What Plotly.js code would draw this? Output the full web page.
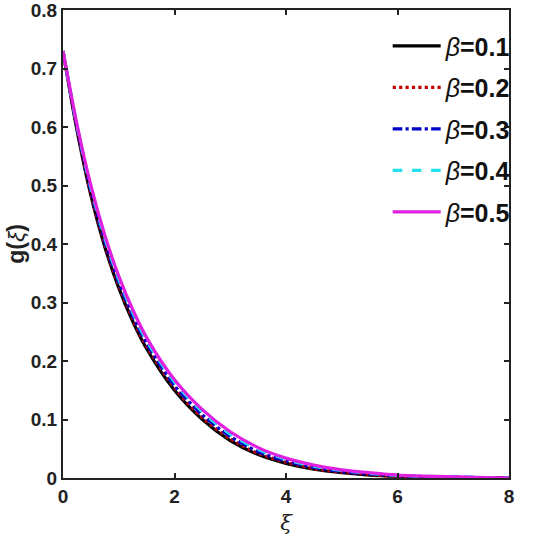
<!DOCTYPE html>
<html>
<head>
<meta charset="utf-8">
<script src="https://cdn.plot.ly/plotly-3.0.1.min.js"></script>
<style>html,body{margin:0;padding:0;background:#fff;}#chart{width:534px;height:550px;}</style>
</head>
<body>
<div id="chart"></div>
<script>
const xi = [0, 0.25, 0.5, 0.75, 1, 1.25, 1.5, 2, 2.5, 3, 3.5, 4, 4.5, 5, 5.5, 6, 7, 8];
const g_b01 = [0.73, 0.595, 0.483, 0.395, 0.325, 0.268, 0.221, 0.150, 0.100, 0.064, 0.040, 0.025, 0.015, 0.009, 0.005, 0.003, 0.001, 0];
const g_b02 = [0.73, 0.597, 0.486, 0.399, 0.329, 0.272, 0.225, 0.154, 0.103, 0.067, 0.042, 0.027, 0.016, 0.010, 0.006, 0.003, 0.001, 0];
const g_b03 = [0.73, 0.600, 0.491, 0.404, 0.334, 0.277, 0.230, 0.158, 0.108, 0.071, 0.045, 0.029, 0.018, 0.011, 0.007, 0.004, 0.0015, 0];
const g_b04 = [0.73, 0.603, 0.496, 0.410, 0.340, 0.283, 0.235, 0.164, 0.113, 0.075, 0.049, 0.032, 0.020, 0.013, 0.008, 0.0045, 0.002, 0];
const g_b05 = [0.73, 0.605, 0.500, 0.415, 0.345, 0.288, 0.240, 0.168, 0.117, 0.079, 0.052, 0.034, 0.022, 0.014, 0.009, 0.005, 0.002, 0];
const betaLabels = ['0.1', '0.2', '0.3', '0.4', '0.5'];
const series = [g_b01, g_b02, g_b03, g_b04, g_b05];
const xTicks = [0, 2, 4, 6, 8];
const xTickText = ['0', '2', '4', '6', '8'];
const yTicks = [0, 0.1, 0.2, 0.3, 0.4, 0.5, 0.6, 0.7, 0.8];
const yTickText = ['0', '0.1', '0.2', '0.3', '0.4', '0.5', '0.6', '0.7', '0.8'];

const styles = [
  {color: '#000000', dash: 'solid', width: 3.2},
  {color: '#C00000', dash: 'dot', width: 3.2},
  {color: '#0000C8', dash: 'dashdot', width: 3.2},
  {color: '#22E0EE', dash: 'dash', width: 3.2},
  {color: '#E020E0', dash: 'solid', width: 3.2}
];

const traces = series.map((ys, i) => ({
  x: xi, y: ys, type: 'scatter', mode: 'lines',
  line: {color: styles[i].color, dash: styles[i].dash, width: styles[i].width, shape: 'spline', smoothing: 0.8},
  name: '<i>β</i><b>=' + betaLabels[i] + '</b>',
  legendgroup: 'g' + i
}));

const tickFont = {family: 'Liberation Sans, Arial, sans-serif', size: 19, color: '#222', weight: 'bold'};

const layout = {
  width: 534, height: 550,
  margin: {l: 63, r: 25, t: 10, b: 72},
  paper_bgcolor: '#fff', plot_bgcolor: '#fff',
  showlegend: true,
  legend: {
    x: 1.015, y: 0.972, xanchor: 'right', yanchor: 'top',
    bgcolor: 'rgba(0,0,0,0)', borderwidth: 0,
    font: {family: 'Liberation Sans, Arial, sans-serif', size: 25, color: '#111'},
    traceorder: 'grouped', tracegroupgap: 6, itemwidth: 48
  },
  xaxis: {
    range: [0, 8], tickvals: xTicks, ticktext: xTickText,
    ticks: 'inside', ticklen: 5, tickwidth: 2, tickcolor: '#222',
    showline: true, linecolor: '#222', linewidth: 2, mirror: 'ticks',
    showgrid: false, zeroline: false, ticklabeloverflow: 'allow',
    tickfont: tickFont,
    title: {text: '<i>ξ</i>', font: {family: 'DejaVu Serif, serif', size: 21, color: '#222'}, standoff: 10}
  },
  yaxis: {
    range: [0, 0.8], tickvals: yTicks, ticktext: yTickText,
    ticks: 'inside', ticklen: 5, tickwidth: 2, tickcolor: '#222',
    showline: true, linecolor: '#222', linewidth: 2, mirror: 'ticks',
    showgrid: false, zeroline: false, ticklabeloverflow: 'allow',
    tickfont: tickFont,
    title: {text: '<b>g(</b><i>ξ</i><b>)</b>', font: {family: 'Liberation Sans, Arial, sans-serif', size: 23, color: '#222'}, standoff: 0}
  }
};

Plotly.newPlot('chart', traces, layout, {displayModeBar: false, staticPlot: true});
</script>
</body>
</html>
